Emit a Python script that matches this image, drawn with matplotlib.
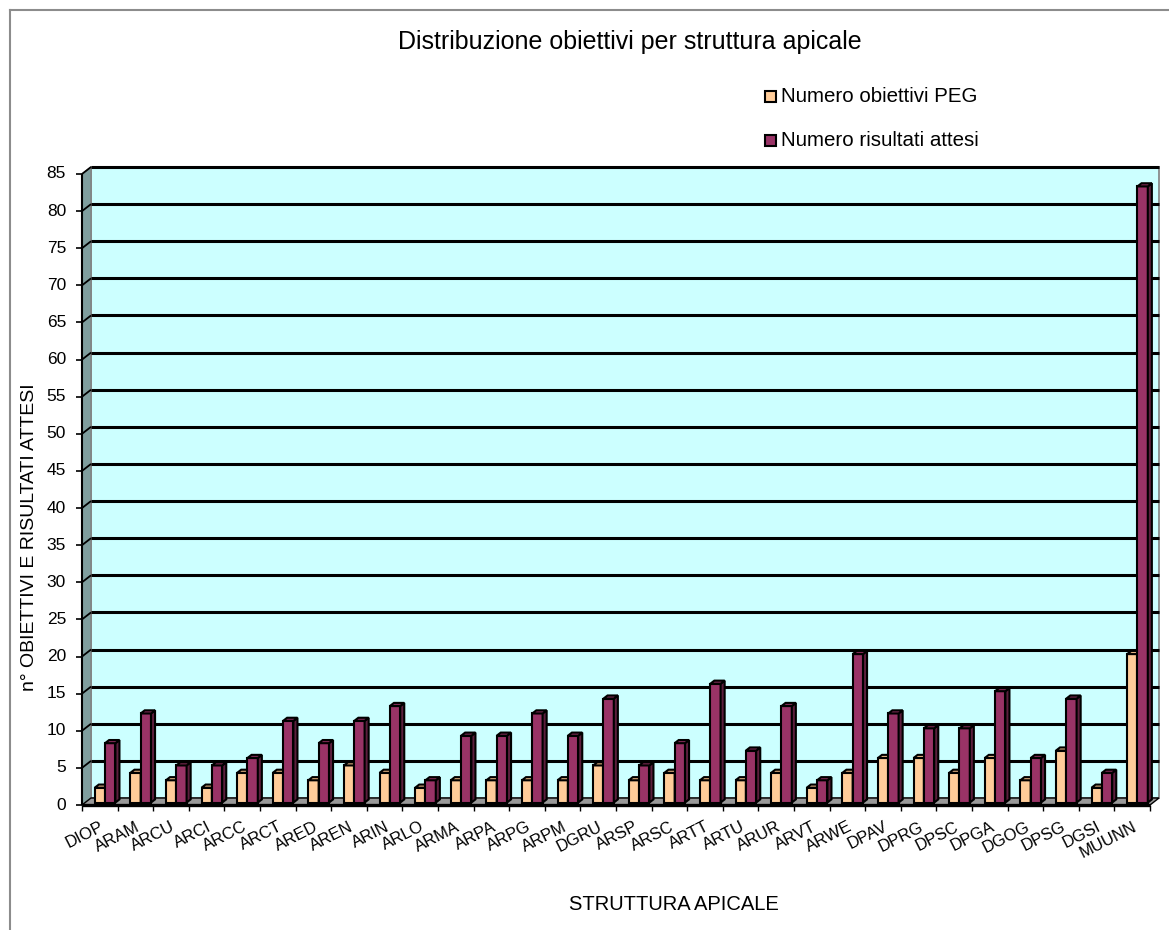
import matplotlib
matplotlib.use("Agg")
import matplotlib.pyplot as plt
from matplotlib.patches import Polygon, Rectangle
from matplotlib.lines import Line2D
from matplotlib.transforms import IdentityTransform

plt.rcParams['font.family'] = ['Liberation Sans', 'DejaVu Sans']

categories = ["DIOP", "ARAM", "ARCU", "ARCI", "ARCC", "ARCT", "ARED", "AREN", "ARIN", "ARLO",
              "ARMA", "ARPA", "ARPG", "ARPM", "DGRU", "ARSP", "ARSC", "ARTT", "ARTU", "ARUR",
              "ARVT", "ARWE", "DPAV", "DPRG", "DPSC", "DPGA", "DGOG", "DPSG", "DGSI", "MUUNN"]
obiettivi_peg = [2, 4, 3, 2, 4, 4, 3, 5, 4, 2,
                 3, 3, 3, 3, 5, 3, 4, 3, 3, 4,
                 2, 4, 6, 6, 4, 6, 3, 7, 2, 20]
risultati_attesi = [8, 12, 5, 5, 6, 11, 8, 11, 13, 3,
                    9, 9, 12, 9, 14, 5, 8, 16, 7, 13,
                    3, 20, 12, 10, 10, 15, 6, 14, 4, 83]
y_ticks = list(range(0, 90, 5))
series_names = ["Numero obiettivi PEG", "Numero risultati attesi"]

W, H = 1169, 930
fig = plt.figure(figsize=(W / 100, H / 100), dpi=100)
fig.patch.set_facecolor('white')

# front plane of the plot
ax = fig.add_axes([82 / W, (H - 805) / H, (1150 - 82) / W, (805 - 174) / H])
ax.set_xlim(0, len(categories))
ax.set_ylim(0, 85)
ax.axis('off')

DX, DY = 9.0, 7.0
IT = IdentityTransform()


def P(x, y, d=0.0):
    X, Y = ax.transData.transform((x, y))
    return (X + d * DX, Y + d * DY)


def poly(pts, fc, ec='black', lw=1.0, z=1):
    p = Polygon(pts, closed=True, facecolor=fc, edgecolor=ec, linewidth=lw,
                transform=IT, clip_on=False, zorder=z, joinstyle='miter')
    fig.add_artist(p)


def line(p1, p2, color='black', lw=1.0, z=2):
    l = Line2D([p1[0], p2[0]], [p1[1], p2[1]], color=color, linewidth=lw,
               transform=IT, clip_on=False, zorder=z, solid_capstyle='butt')
    fig.add_artist(l)


n = len(categories)
ymax = 85
# walls and floor
poly([P(0, 0, 1), P(n, 0, 1), P(n, ymax, 1), P(0, ymax, 1)], '#CCFFFF', '#808080', 1.2, 1)
poly([P(0, 0, 0), P(0, 0, 1), P(0, ymax, 1), P(0, ymax, 0)], '#7F9E9E', '#808080', 1.0, 1)
poly([P(0, 0, 0), P(n, 0, 0), P(n, 0, 1), P(0, 0, 1)], '#999999', 'black', 1.0, 1)
line(P(0, 0, 0), P(n, 0, 0), 'black', 2.4, 3)

# gridlines
for yv in y_ticks[1:]:
    line(P(0, yv, 1), P(n, yv, 1), 'black', 2.2, 2)
    line(P(0, yv, 0), P(0, yv, 1), 'black', 1.3, 2)

# front value axis
line(P(0, 0, 0), P(0, ymax, 0), 'black', 1.5, 3)
for yv in y_ticks:
    x0, y0 = P(0, yv, 0)
    line((x0 - 6, y0), (x0, y0), 'black', 1.2, 3)
    fig.text((x0 - 16) / W, y0 / H, str(yv), ha='right', va='center', fontsize=12.5)

# category ticks and labels
for i in range(n + 1):
    x0, y0 = P(i, 0, 0)
    line((x0, y0), (x0, y0 - 6), 'black', 1.0, 3)
for i, c in enumerate(categories):
    x0, y0 = P(i + 0.5, 0, 0)
    fig.text(x0 / W, (y0 - 14) / H, c, ha='right', va='top', rotation=27,
             rotation_mode='anchor', fontsize=12)


def bar3d(x0, x1, h, cols, d0=0.35, d1=0.8):
    front, side, top = cols
    poly([P(x0, 0, d0), P(x1, 0, d0), P(x1, h, d0), P(x0, h, d0)], front, 'black', 1.5, 4)
    poly([P(x1, 0, d0), P(x1, 0, d1), P(x1, h, d1), P(x1, h, d0)], side, 'black', 1.5, 4)
    poly([P(x0, h, d0), P(x1, h, d0), P(x1, h, d1), P(x0, h, d1)], top, 'black', 1.5, 4)


peg_cols = ('#FFCC99', '#C89E74', '#E3B282')
ris_cols = ('#993366', '#5C1E3D', '#7E2A54')
for i in range(n):
    bar3d(i + 0.27, i + 0.56, obiettivi_peg[i], peg_cols)
    bar3d(i + 0.56, i + 0.85, risultati_attesi[i], ris_cols)

# legend
for k, (name, col) in enumerate(zip(series_names, [peg_cols[0], ris_cols[0]])):
    yc = 97 + k * 44
    r = Rectangle((765 / W, (H - yc - 5.5) / H), 11 / W, 11 / H, transform=fig.transFigure,
                  facecolor=col, edgecolor='black', linewidth=1.5)
    fig.add_artist(r)
    fig.text(781 / W, (H - yc) / H, name, ha='left', va='center', fontsize=14.8)

# texts
fig.text(630 / W, (H - 42) / H, "Distribuzione obiettivi per struttura apicale",
         ha='center', va='center', fontsize=18)
fig.text(674 / W, (H - 904) / H, "STRUTTURA APICALE", ha='center', va='center', fontsize=14.5)
fig.text(30 / W, (H - 537) / H, "n° OBIETTIVI E RISULTATI ATTESI", ha='center', va='center',
         rotation=90, fontsize=14)

# chart area border
fig.add_artist(Line2D([10 / W, 10 / W], [0, (H - 10) / H], color='#8C8C8C', lw=1.5,
                      transform=fig.transFigure))
fig.add_artist(Line2D([10 / W, 1], [(H - 10) / H, (H - 10) / H], color='#8C8C8C', lw=1.5,
                      transform=fig.transFigure))

fig.savefig("out.png", dpi=100, facecolor='white')
